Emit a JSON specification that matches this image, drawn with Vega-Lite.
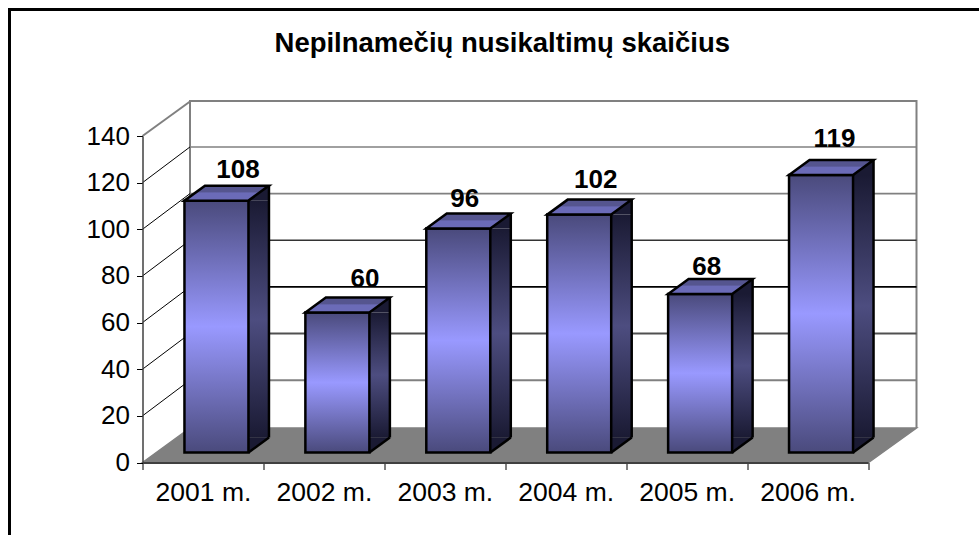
{"$schema":"https://vega.github.io/schema/vega-lite/v6.json","width":725.5,"height":326.5,"autosize":{"type":"none"},"padding":{"left":142.5,"top":136,"right":111,"bottom":72.5},"background":"white","config":{"view":{"stroke":null},"font":"Liberation Sans"},"title":{"text":"Nepilnamečių nusikaltimų skaičius","font":"Liberation Sans","fontSize":27.5,"fontWeight":"bold","color":"black","anchor":"middle","frame":"group","offset":0,"dx":-3,"dy":54},"data":{"values":[{"year":"2001 m.","value":108},{"year":"2002 m.","value":60},{"year":"2003 m.","value":96},{"year":"2004 m.","value":102},{"year":"2005 m.","value":68},{"year":"2006 m.","value":119}]},"encoding":{"x":{"field":"year","type":"nominal","title":null,"scale":{"type":"band","paddingInner":0,"paddingOuter":0,"domain":["2001 m.","2002 m.","2003 m.","2004 m.","2005 m.","2006 m."]},"axis":{"tickBand":"extent","labelAngle":0,"labelFont":"Liberation Sans","labelFontSize":26.5,"labelColor":"black","labelPadding":10,"tickColor":"black","tickSize":7,"tickWidth":1,"domainColor":"#404040","domainWidth":2,"grid":false,"zindex":1}},"y":{"field":"value","type":"quantitative","title":null,"stack":null,"scale":{"domain":[0,140],"nice":false,"zero":true},"axis":{"values":[0,20,40,60,80,100,120,140],"labelFont":"Liberation Sans","labelFontSize":26,"labelColor":"black","labelPadding":7,"tickColor":"black","tickSize":6,"tickWidth":1,"domainColor":"#404040","domainWidth":1.5,"grid":false,"zindex":1}}},"layer":[{"transform":[{"filter":"datum.year=='2001 m.'"}],"mark":{"type":"point","shape":"M-133,410L-133,-126.5L850,-126.5","size":4,"filled":false,"fill":null,"stroke":"black","strokeWidth":3,"opacity":1},"encoding":{"x":{"field":"year","type":"nominal","bandPosition":0},"y":{"datum":140}}},{"transform":[{"filter":"datum.year=='2001 m.'"}],"mark":{"type":"point","shape":"M0,0L47.5,-34.5L774,-34.5L726,0Z","size":4,"filled":true,"fill":"#808080","stroke":"#808080","strokeWidth":1.5,"opacity":1},"encoding":{"x":{"field":"year","type":"nominal","bandPosition":0},"y":{"datum":0}}},{"transform":[{"filter":"datum.year=='2001 m.'"}],"mark":{"type":"point","shape":"M47.5,-34.5L47.5,-361.5L774,-361.5L774,-34.5","size":4,"filled":false,"fill":null,"stroke":"#808080","strokeWidth":2,"opacity":1},"encoding":{"x":{"field":"year","type":"nominal","bandPosition":0},"y":{"datum":0}}},{"data":{"values":[{"tick":20},{"tick":40},{"tick":60},{"tick":80},{"tick":100},{"tick":120}]},"mark":{"type":"point","shape":"M47.5,-35.7L774,-35.7","size":4,"filled":false,"fill":null,"opacity":1},"encoding":{"x":{"datum":"2001 m.","bandPosition":0},"y":{"field":"tick","type":"quantitative"},"stroke":{"field":"tick","type":"ordinal","legend":null,"scale":{"domain":[20,40,60,80,100,120],"range":["#808080","#505050","#000000","#333333","#808080","#808080"]}},"strokeWidth":{"field":"tick","type":"ordinal","legend":null,"scale":{"domain":[20,40,60,80,100,120],"range":[2,1.5,1.2,1.2,2,2]}}}},{"data":{"values":[{"tick":20},{"tick":40},{"tick":60},{"tick":80},{"tick":100},{"tick":120}]},"mark":{"type":"point","shape":"M0,0L47.5,-35.7","size":4,"filled":false,"fill":null,"stroke":"black","strokeWidth":1,"opacity":1},"encoding":{"x":{"datum":"2001 m.","bandPosition":0},"y":{"field":"tick","type":"quantitative"}}},{"data":{"values":[{"tick":140}]},"mark":{"type":"point","shape":"M0,0L47.5,-34.5","size":4,"filled":false,"fill":null,"stroke":"#808080","strokeWidth":2,"opacity":1},"encoding":{"x":{"datum":"2001 m.","bandPosition":0},"y":{"field":"tick","type":"quantitative"}}},{"mark":{"type":"bar","width":20.5,"xOffset":55.75,"yOffset":-10,"y2Offset":-25,"color":{"gradient":"linear","x1":0,"y1":0,"x2":0,"y2":1,"stops":[{"offset":0,"color":"#1a1a33"},{"offset":0.5,"color":"#4d4d80"},{"offset":1,"color":"#1a1a33"}]}},"encoding":{"y2":{"datum":0}}},{"mark":{"type":"point","shape":"M0,0L20.5,-15L20.5,0Z","size":4,"filled":true,"fill":"#1a1a33","stroke":null,"opacity":1,"xOffset":45.5,"yOffset":-10}},{"mark":{"type":"point","shape":"M0,0L20.5,-15L0,-15Z","size":4,"filled":true,"fill":"#1a1a33","stroke":null,"opacity":1,"xOffset":45.5,"yOffset":-10},"encoding":{"y":{"datum":0}}},{"mark":{"type":"point","shape":"M0,0L20.5,-15","size":4,"filled":false,"fill":null,"stroke":"black","strokeWidth":2.5,"opacity":1,"xOffset":45.5,"yOffset":-10},"encoding":{"y":{"datum":0}}},{"mark":{"type":"rule","stroke":"black","strokeWidth":2.5,"xOffset":66,"yOffset":-25,"y2Offset":-25},"encoding":{"y2":{"datum":0}}},{"mark":{"type":"bar","width":64,"xOffset":13.5,"yOffset":-10,"y2Offset":-10,"stroke":"black","strokeWidth":2.5,"color":{"gradient":"linear","x1":0,"y1":0,"x2":0,"y2":1,"stops":[{"offset":0,"color":"#4a4a7c"},{"offset":0.5,"color":"#9999ff"},{"offset":1,"color":"#4a4a7c"}]}},"encoding":{"y2":{"datum":0}}},{"mark":{"type":"point","shape":"M-64,0L-43.5,-15L20.5,-15L0,0Z","size":4,"filled":true,"fill":{"gradient":"linear","x1":0,"y1":0,"x2":0,"y2":1,"stops":[{"offset":0,"color":"#55558f"},{"offset":0.4,"color":"#55558f"},{"offset":0.5,"color":"#6b6bb8"},{"offset":1,"color":"#6b6bb8"}]},"stroke":"black","strokeWidth":2.5,"opacity":1,"xOffset":45.5,"yOffset":-10}},{"transform":[{"filter":"datum.year=='2001 m.'"}],"mark":{"type":"text","font":"Liberation Sans","fontSize":26,"fontWeight":"bold","color":"black","baseline":"alphabetic","dx":35,"dy":-32.6},"encoding":{"text":{"field":"value","type":"quantitative"}}},{"transform":[{"filter":"datum.year=='2002 m.'"}],"mark":{"type":"text","font":"Liberation Sans","fontSize":26,"fontWeight":"bold","color":"black","baseline":"alphabetic","dx":41,"dy":-36},"encoding":{"text":{"field":"value","type":"quantitative"}}},{"transform":[{"filter":"datum.year=='2003 m.'"}],"mark":{"type":"text","font":"Liberation Sans","fontSize":26,"fontWeight":"bold","color":"black","baseline":"alphabetic","dx":20,"dy":-32},"encoding":{"text":{"field":"value","type":"quantitative"}}},{"transform":[{"filter":"datum.year=='2004 m.'"}],"mark":{"type":"text","font":"Liberation Sans","fontSize":26,"fontWeight":"bold","color":"black","baseline":"alphabetic","dx":30,"dy":-37},"encoding":{"text":{"field":"value","type":"quantitative"}}},{"transform":[{"filter":"datum.year=='2005 m.'"}],"mark":{"type":"text","font":"Liberation Sans","fontSize":26,"fontWeight":"bold","color":"black","baseline":"alphabetic","dx":20,"dy":-29},"encoding":{"text":{"field":"value","type":"quantitative"}}},{"transform":[{"filter":"datum.year=='2006 m.'"}],"mark":{"type":"text","font":"Liberation Sans","fontSize":26,"fontWeight":"bold","color":"black","baseline":"alphabetic","dx":27,"dy":-38},"encoding":{"text":{"field":"value","type":"quantitative"}}}]}
